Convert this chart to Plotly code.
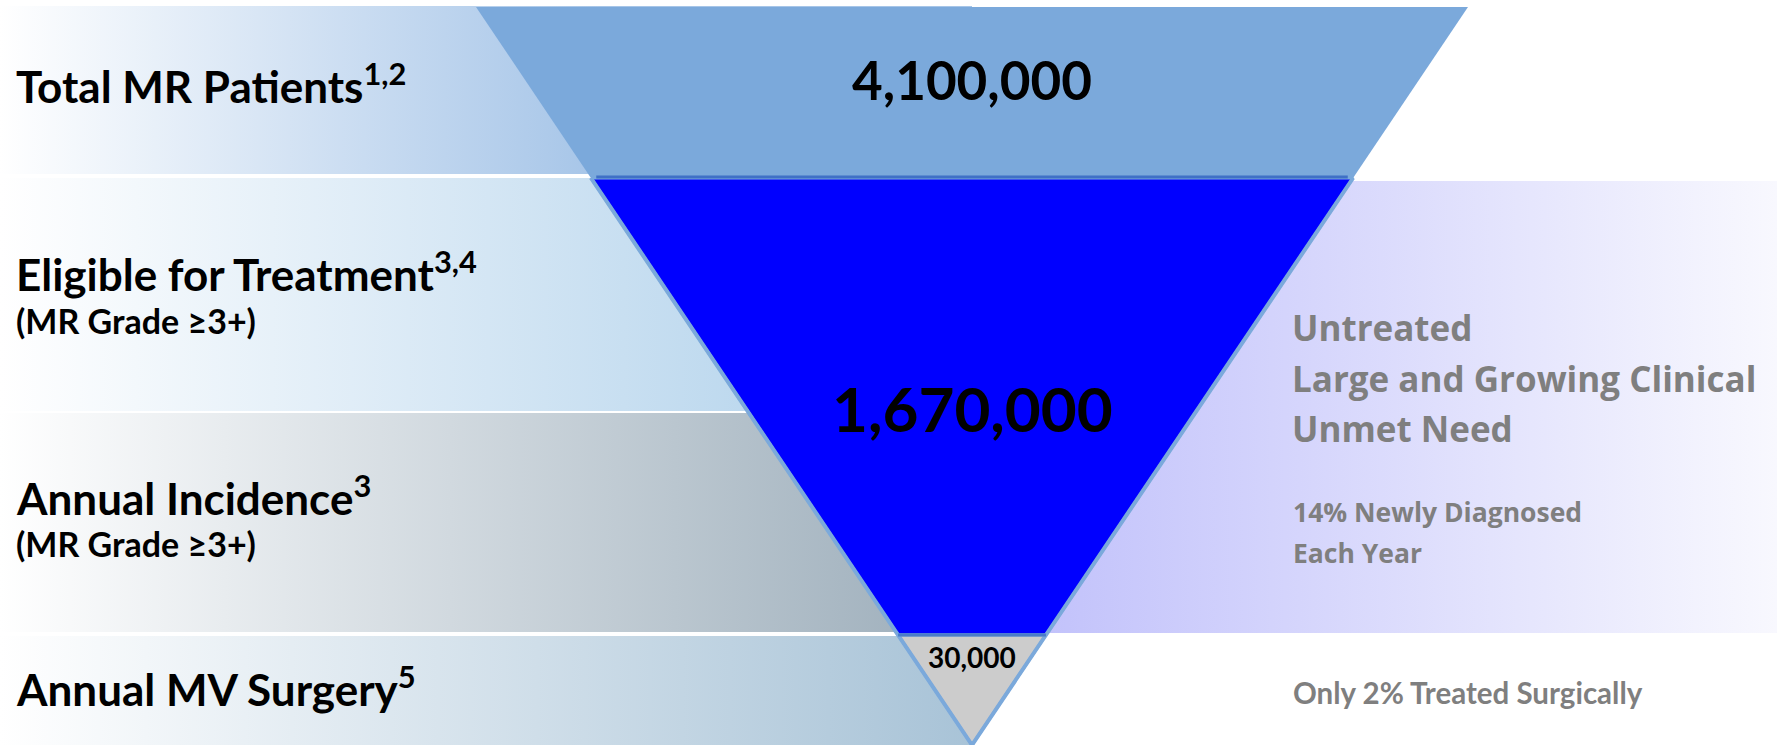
import plotly.graph_objects as go

# ---------------- data ----------------
stage_labels = ["Total MR Patients", "Eligible for Treatment", "Annual Incidence", "Annual MV Surgery"]
stage_refs = ["1,2", "3,4", "3", "5"]
stage_subtitles = ["", "(MR Grade ≥3+)", "(MR Grade ≥3+)", ""]
funnel_values = [4100000, 1670000, 30000]
right_headline = ["Untreated", "Large and Growing Clinical", "Unmet Need"]
right_detail = ["14% Newly Diagnosed", "Each Year"]
surgery_note = "Only 2% Treated Surgically"

# ---------------- layout constants (pixel space) ----------------
W, H = 1777, 745
FUN_TOP, FUN_APEX = 7, 745
FUN_L, FUN_R, FUN_C = 476, 1468, 972
LEVELS = [FUN_TOP, 178, 635, FUN_APEX]          # funnel stage boundaries
BANDS = [(6, 174), (178, 411), (413, 632), (636, 745)]
BAND_STOP = [600, 760, 900, 975]
BAND_COL = ["#a6c5e8", "#bcd8ee", "#a3b3bf", "#a8c3d7"]
label_y = [83, 271, 495, 686]
sub_y = [None, 320, 543, None]
value_y = [79, 408, 657]
value_size = [53, 62, 28]
value_fill = ["#7ba9db", "#0000ff", "#cccccc"]


def edge_x(y, side):
    t = (y - FUN_TOP) / (FUN_APEX - FUN_TOP)
    if side == "l":
        return FUN_L + (FUN_C - FUN_L) * t
    return FUN_R - (FUN_R - FUN_C) * t


fig = go.Figure()

# left gradient bands (extend under the funnel)
for (y0, y1), stop, col in zip(BANDS, BAND_STOP, BAND_COL):
    fig.add_trace(go.Scatter(
        x=[0, FUN_C, FUN_C, 0, 0], y=[y0, y0, y1, y1, y0], mode="lines",
        fill="toself", line=dict(width=0), hoverinfo="skip", showlegend=False,
        fillgradient=dict(type="horizontal", start=0, stop=stop,
                          colorscale=[[0, "#ffffff"], [1, col]]),
    ))

# right gradient band
fig.add_trace(go.Scatter(
    x=[FUN_C, W, W, FUN_C, FUN_C], y=[181, 181, 633, 633, 181], mode="lines",
    fill="toself", line=dict(width=0), hoverinfo="skip", showlegend=False,
    fillgradient=dict(type="horizontal", start=1040, stop=W,
                      colorscale=[[0, "#c2c2fb"], [1, "#f8f8fe"]]),
))

# funnel stages
outline = ["#7ba9db", "#7aaadc", "#6f9fd8"]
for i, v in enumerate(funnel_values):
    ya, yb = LEVELS[i], LEVELS[i + 1]
    xs = [edge_x(ya, "l"), edge_x(ya, "r"), edge_x(yb, "r"), edge_x(yb, "l")]
    ys = [ya, ya, yb, yb]
    fig.add_trace(go.Scatter(
        x=xs + [xs[0]], y=ys + [ys[0]], mode="lines", fill="toself",
        fillcolor=value_fill[i], line=dict(color=outline[i], width=3 if i else 0),
        hoverinfo="skip", showlegend=False,
    ))

# outer funnel edges
for side in ("l", "r"):
    fig.add_trace(go.Scatter(
        x=[edge_x(LEVELS[1], side), edge_x(FUN_APEX, side)], y=[LEVELS[1], FUN_APEX],
        mode="lines", line=dict(color="#7ba9db", width=4), hoverinfo="skip", showlegend=False,
    ))
# darker divider under top stage
fig.add_trace(go.Scatter(
    x=[edge_x(LEVELS[1] - 1, "l") + 6, edge_x(LEVELS[1] - 1, "r") - 6], y=[LEVELS[1] - 1] * 2,
    mode="lines", line=dict(color="#3f70c6", width=3), hoverinfo="skip", showlegend=False,
))
# divider above grey stage
fig.add_trace(go.Scatter(
    x=[edge_x(LEVELS[2], "l"), edge_x(LEVELS[2], "r")], y=[LEVELS[2]] * 2,
    mode="lines", line=dict(color="#4a7cc8", width=3), hoverinfo="skip", showlegend=False,
))

ann = []
LAB_FONT = "Lato"
for i, lab in enumerate(stage_labels):
    ann.append(dict(x=14, y=label_y[i], xanchor="left", yanchor="middle",
                    text=f"<b>{lab}<sup>{stage_refs[i]}</sup></b>",
                    font=dict(family=LAB_FONT, size=44, color="#000000")))
    if stage_subtitles[i]:
        ann.append(dict(x=14, y=sub_y[i], xanchor="left", yanchor="middle",
                        text=f"<b>{stage_subtitles[i]}</b>",
                        font=dict(family=LAB_FONT, size=34, color="#000000")))

for i, v in enumerate(funnel_values):
    ann.append(dict(x=FUN_C, y=value_y[i], xanchor="center", yanchor="middle",
                    text=f"<b>{v:,}</b>",
                    font=dict(family=LAB_FONT, size=value_size[i], color="#000000")))

for j, t in enumerate(right_headline):
    ann.append(dict(x=1290, y=[327, 378, 428][j], xanchor="left", yanchor="middle",
                    text=f"<b>{t}</b>",
                    font=dict(family="Open Sans", size=35, color="#7f7f7f")))
for j, t in enumerate(right_detail):
    ann.append(dict(x=1291, y=[512, 553][j], xanchor="left", yanchor="middle",
                    text=f"<b>{t}</b>",
                    font=dict(family="Open Sans", size=26.5, color="#7f7f7f")))
ann.append(dict(x=1291, y=692, xanchor="left", yanchor="middle",
                text=f"<b>{surgery_note}</b>",
                font=dict(family=LAB_FONT, size=29.5, color="#7f7f7f")))

for a in ann:
    a.update(xref="x", yref="y", showarrow=False)

fig.update_layout(
    width=W, height=H, margin=dict(l=0, r=0, t=0, b=0),
    paper_bgcolor="#ffffff", plot_bgcolor="#ffffff",
    xaxis=dict(range=[0, W], visible=False, fixedrange=True),
    yaxis=dict(range=[H, 0], visible=False, fixedrange=True),
    annotations=ann, showlegend=False,
)

fig.write_html("out.html", config={"displayModeBar": False},
               post_script="document.body.style.margin='0';")
